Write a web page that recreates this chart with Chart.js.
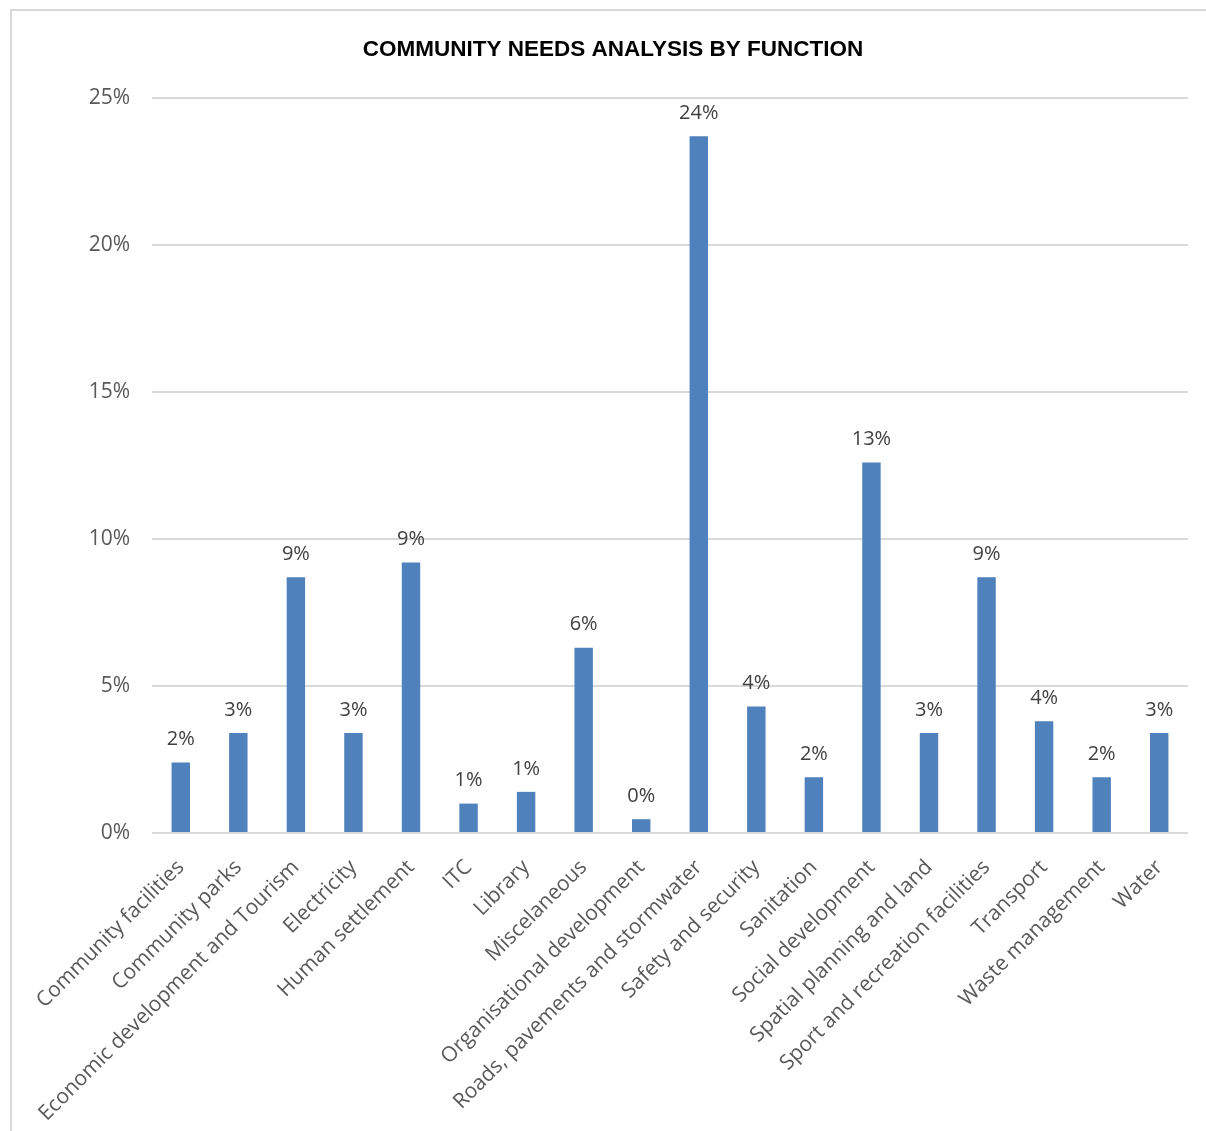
<!DOCTYPE html>
<html>
<head>
<meta charset="utf-8">
<script src="https://cdn.jsdelivr.net/npm/chart.js@4/dist/chart.umd.min.js"></script>
<style>
    html, body { margin: 0; padding: 0; background: #fff; overflow: hidden; }
    .frame {
        position: absolute;
        left: 10px;
        top: 9px;
        width: 1250px;
        height: 1250px;
        border-left: 2px solid #d9d9d9;
        border-top: 2px solid #d9d9d9;
    }
    .wrap { position: absolute; left: 0; top: 0; width: 1206px; height: 1131px; }
</style>
</head>
<body>
<div class="frame"></div>
<div class="wrap"><canvas id="needsChart"></canvas></div>
<script>
const categories = [
    'Community facilities', 'Community parks', 'Economic development and Tourism',
    'Electricity', 'Human settlement', 'ITC', 'Library', 'Miscelaneous',
    'Organisational development', 'Roads, pavements and stormwater',
    'Safety and security', 'Sanitation', 'Social development',
    'Spatial planning and land', 'Sport and recreation facilities',
    'Transport', 'Waste management', 'Water'
];
const shares = [2.4, 3.4, 8.7, 3.4, 9.2, 1.0, 1.4, 6.3, 0.47, 23.7, 4.3, 1.9, 12.6, 3.4, 8.7, 3.8, 1.9, 3.4];
const yTicks = [0, 5, 10, 15, 20, 25];

const FONT = '"Open Sans", "Noto Sans", sans-serif';

// value labels above each bar
const barLabels = {
    id: 'barLabels',
    afterDatasetsDraw(chart) {
        const ctx = chart.ctx;
        const meta = chart.getDatasetMeta(0);
        ctx.save();
        ctx.font = '20px ' + FONT;
        ctx.fillStyle = '#404040';
        ctx.textAlign = 'center';
        ctx.textBaseline = 'bottom';
        meta.data.forEach((bar, i) => {
            ctx.fillText(Math.round(shares[i]) + '%', bar.x, bar.y - 13);
        });
        ctx.restore();
    }
};

new Chart(document.getElementById('needsChart'), {
    type: 'bar',
    data: {
        labels: categories,
        datasets: [{
            data: shares,
            backgroundColor: '#4f81bd',
            categoryPercentage: 1,
            barPercentage: 0.32
        }]
    },
    options: {
        responsive: true,
        maintainAspectRatio: false,
        animation: false,
        layout: { padding: { left: 38, right: 18, top: 0, bottom: 0 } },
        plugins: {
            legend: { display: false },
            tooltip: { enabled: false },
            title: {
                display: true,
                text: 'COMMUNITY NEEDS ANALYSIS BY FUNCTION',
                color: '#000',
                font: { family: '"Liberation Sans Narrow", "Liberation Sans", sans-serif', size: 22.5, weight: 'bold' },
                padding: { top: 36, bottom: 35 }
            }
        },
        scales: {
            x: {
                grid: { display: false },
                border: { display: false },
                ticks: {
                    color: '#595959',
                    font: { family: FONT, size: 21 },
                    maxRotation: 45,
                    minRotation: 45,
                    autoSkip: false,
                    padding: 14
                },
                afterFit(scale) { scale.height = 298; }
            },
            y: {
                min: 0,
                max: 25,
                afterBuildTicks(scale) { scale.ticks = yTicks.map(v => ({ value: v })); },
                grid: { color: '#d9d9d9', lineWidth: 2, drawTicks: false },
                border: { display: false },
                ticks: {
                    color: '#595959',
                    font: { family: FONT, size: 21 },
                    padding: 22,
                    callback: v => v + '%'
                },
                afterFit(scale) { scale.width = 114; }
            }
        }
    },
    plugins: [barLabels]
});
</script>
</body>
</html>
